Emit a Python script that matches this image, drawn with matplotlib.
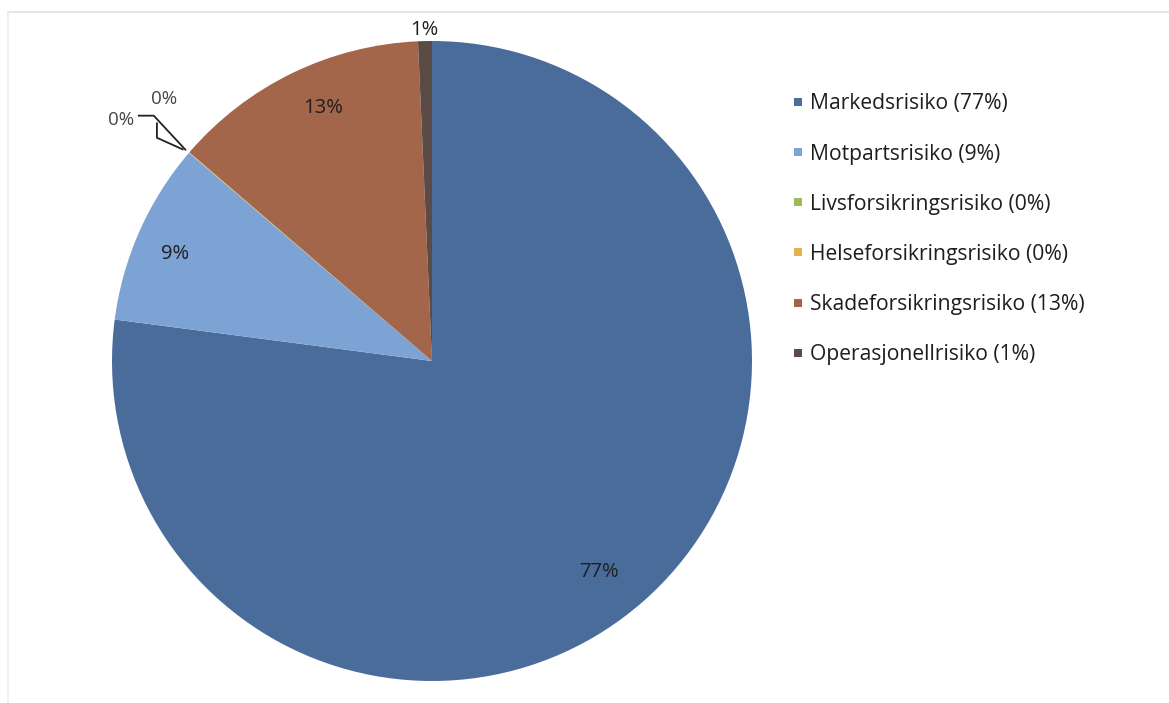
import numpy as np
import matplotlib
matplotlib.use("Agg")
import matplotlib.pyplot as plt
from matplotlib.lines import Line2D

plt.rcParams['font.family'] = ['Open Sans', 'DejaVu Sans']

# Data
categories = ['Markedsrisiko', 'Motpartsrisiko', 'Livsforsikringsrisiko',
              'Helseforsikringsrisiko', 'Skadeforsikringsrisiko', 'Operasjonellrisiko']
shares = [77.1, 9.2, 0.02, 0.02, 13.0, 0.7]
pct_labels = ['77%', '9%', '0%', '0%', '13%', '1%']
colors = ['#4A6C9B', '#7DA3D4', '#9BBB59', '#E8B04F', '#A3664B', '#5B4B47']

fig = plt.figure(figsize=(11.69, 7.03), dpi=100)
fig.patch.set_facecolor('white')

# faint chart-area border (top and left)
fig.add_artist(Line2D([8 / 1169, 1], [1 - 12 / 703] * 2, color='#e2e2e2', lw=1.2))
fig.add_artist(Line2D([8 / 1169] * 2, [0, 1 - 12 / 703], color='#ececec', lw=1.2))

# pie axes: centre (432, 361) px, radius 320 px
R = 320
ax = fig.add_axes([(432 - R) / 1169, (703 - 361 - R) / 703, 2 * R / 1169, 2 * R / 703])
wedges, _ = ax.pie(shares, colors=colors, startangle=90, counterclock=False,
                   radius=1, wedgeprops=dict(linewidth=0))
ax.set_xlim(-1, 1)
ax.set_ylim(-1, 1)
ax.set_aspect('equal')
ax.axis('off')

def mid_point(w, r, shift=0.0):
    a = np.deg2rad((w.theta1 + w.theta2) / 2 + shift)
    return r * np.cos(a), r * np.sin(a)

# inside / outside percentage labels: (radius, angle shift in degrees)
label_pos = {0: (0.84, -3.0), 1: (0.87, 1.5), 4: (0.86, -2.5), 5: (1.035, 0.0)}
for i, (r, shift) in label_pos.items():
    x, y = mid_point(wedges[i], r, shift)
    ax.text(x, y, pct_labels[i], ha='center', va='center', fontsize=14.5,
            color='#1f1f1f', clip_on=False)

# the two 0% slices get leader lines
px = 1 / R
edge = mid_point(wedges[2], 1.015)
ax.plot([edge[0], edge[0] - 31.6 * px, edge[0] - 46.6 * px],
        [edge[1], edge[1] + 34 * px, edge[1] + 34 * px],
        color='#222222', lw=1.3, clip_on=False)
ax.text(edge[0] - 64 * px, edge[1] + 30 * px, pct_labels[2], ha='center', va='center',
        fontsize=13.5, color='#444444', clip_on=False)
edge = mid_point(wedges[3], 1.015)
ax.plot([edge[0] - 3 * px, edge[0] - 28.7 * px, edge[0] - 28.7 * px],
        [edge[1], edge[1] + 11.6 * px, edge[1] + 26 * px],
        color='#222222', lw=1.3, clip_on=False)
ax.text(edge[0] - 22 * px, edge[1] + 50 * px, pct_labels[3], ha='center', va='center',
        fontsize=13.5, color='#444444', clip_on=False)

# legend
handles = [Line2D([], [], marker='s', ls='none', markersize=6, color=c, markeredgewidth=0)
           for c in colors]
legend_labels = [f'{c} ({p})' for c, p in zip(categories, pct_labels)]
fig.legend(handles, legend_labels, loc='upper left', bbox_to_anchor=(784 / 1169, 1 - 85 / 703),
           frameon=False, fontsize=15.2, handlelength=0.5, handletextpad=0.35,
           labelspacing=1.38, borderaxespad=0, labelcolor='#1e1e1e')

fig.savefig('out.png', dpi=100, facecolor='white')
